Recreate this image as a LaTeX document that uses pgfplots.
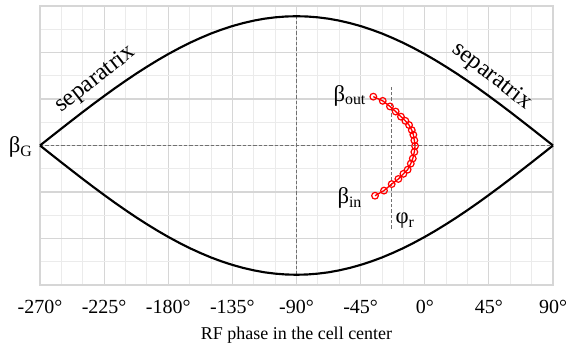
\documentclass[border=0pt]{standalone}
\usepackage{pgfplots}
\pgfplotsset{compat=1.18}
\usepackage{fontspec}
\setmainfont{Liberation Serif}
\definecolor{majgrid}{HTML}{D6D6D6}
\definecolor{mingrid}{HTML}{EBEBEB}
\definecolor{dashgray}{HTML}{707070}
\begin{document}
\begin{tikzpicture}
\begin{axis}[
 name=ax,
 scale only axis, width=384.75pt, height=209.25pt,
 xmin=-270, xmax=90, ymin=-3, ymax=3,
 xtick={-270,-225,-180,-135,-90,-45,0,45,90},
 xticklabels={-270°,-225°,-180°,-135°,-90°,-45°,0°,45°,90°},
 ytick={-3,-2,-1,0,1,2,3}, yticklabels={},
 minor x tick num=2, minor y tick num=1,
 grid=both,
 major grid style={majgrid, line width=0.9pt},
 minor grid style={mingrid, line width=0.6pt},
 axis line style={majgrid, line width=0.9pt},
 major tick length=0pt, minor tick length=0pt,
 tick label style={font=\fontsize{15}{18}\selectfont},
 xticklabel style={yshift=-8pt},
 xlabel={RF phase in the cell center},
 xlabel style={font=\fontsize{13.5}{16}\selectfont, at={(axis description cs:0.5,0)}, anchor=north, yshift=-28pt},
 clip=false,
]
% dashed guides
\addplot[dashgray, line width=1pt, dash pattern=on 2.5pt off 1.5pt] coordinates {(-270,0) (90,0)};
\addplot[dashgray, line width=1pt, dash pattern=on 2.5pt off 1.5pt] coordinates {(-90,-2.78) (-90,2.78)};
\addplot[dashgray, line width=1pt, dash pattern=on 2.5pt off 1.5pt] coordinates {(-23.2,-1.79) (-23.2,1.30)};
% separatrix upper
\addplot[black, line width=1.6pt] coordinates {
(-270,0) (-262.5,0.182) (-255,0.363) (-247.5,0.542) (-240,0.720) (-232.5,0.894)
(-225,1.064) (-217.5,1.230) (-210,1.390) (-202.5,1.545) (-195,1.692) (-187.5,1.833)
(-180,1.966) (-172.5,2.090) (-165,2.206) (-157.5,2.311) (-150,2.408) (-142.5,2.493)
(-135,2.568) (-127.5,2.632) (-120,2.685) (-112.5,2.727) (-105,2.756) (-97.5,2.774)
(-90,2.780)
(-82.5,2.774) (-75,2.756) (-67.5,2.727) (-60,2.685) (-52.5,2.632) (-45,2.568)
(-37.5,2.493) (-30,2.408) (-22.5,2.311) (-15,2.206) (-7.5,2.090) (0,1.966)
(7.5,1.833) (15,1.692) (22.5,1.545) (30,1.390) (37.5,1.230) (45,1.064)
(52.5,0.894) (60,0.720) (67.5,0.542) (75,0.363) (82.5,0.182) (90,0)
};
% separatrix lower
\addplot[black, line width=1.6pt] coordinates {
(-270,0) (-262.5,-0.182) (-255,-0.363) (-247.5,-0.542) (-240,-0.720) (-232.5,-0.894)
(-225,-1.064) (-217.5,-1.230) (-210,-1.390) (-202.5,-1.545) (-195,-1.692) (-187.5,-1.833)
(-180,-1.966) (-172.5,-2.090) (-165,-2.206) (-157.5,-2.311) (-150,-2.408) (-142.5,-2.493)
(-135,-2.568) (-127.5,-2.632) (-120,-2.685) (-112.5,-2.727) (-105,-2.756) (-97.5,-2.774)
(-90,-2.780)
(-82.5,-2.774) (-75,-2.756) (-67.5,-2.727) (-60,-2.685) (-52.5,-2.632) (-45,-2.568)
(-37.5,-2.493) (-30,-2.408) (-22.5,-2.311) (-15,-2.206) (-7.5,-2.090) (0,-1.966)
(7.5,-1.833) (15,-1.692) (22.5,-1.545) (30,-1.390) (37.5,-1.230) (45,-1.064)
(52.5,-0.894) (60,-0.720) (67.5,-0.542) (75,-0.363) (82.5,-0.182) (90,0)
};
% beam trajectory
\addplot[red, line width=1pt, mark=o, mark size=2.5pt, mark options={line width=0.9pt, fill=white}] coordinates {
(-36.1,1.05) (-29.5,0.96) (-24.4,0.84) (-20.4,0.73) (-16.7,0.62) (-13.6,0.53)
(-11.0,0.44) (-9.1,0.33) (-8.0,0.23) (-7.3,0.11) (-6.8,-0.01) (-7.3,-0.14)
(-8.4,-0.28) (-9.8,-0.39) (-12.0,-0.52) (-15.0,-0.61) (-18.5,-0.72) (-23.2,-0.83)
(-28.6,-0.97) (-34.9,-1.08)
};
\node[rotate=38, font=\fontsize{18}{20}\selectfont] at (axis cs:-231,1.42) {separatrix};
\node[rotate=-38, font=\fontsize{18}{20}\selectfont] at (axis cs:47,1.49) {separatrix};
\node[anchor=base east, font=\fontsize{17}{20}\selectfont, xshift=-2pt, yshift=-5.5pt] at (axis cs:-270,0) {β\textsubscript{G}};
\node[anchor=base east, font=\fontsize{17}{20}\selectfont, inner sep=0pt] at (axis cs:-41,0.955) {β\textsubscript{out}};
\node[anchor=base east, font=\fontsize{17}{20}\selectfont, inner sep=0pt] at (axis cs:-43.8,-1.25) {β\textsubscript{in}};
\node[anchor=base west, font=\fontsize{17}{20}\selectfont, inner sep=0pt] at (axis cs:-20.6,-1.68) {φ\textsubscript{r}};
\end{axis}
\pgfresetboundingbox
\path ([shift={(-30pt,-46.5pt)}]ax.south west) rectangle ([shift={(15.75pt,4.5pt)}]ax.north east);
\end{tikzpicture}
\end{document}
